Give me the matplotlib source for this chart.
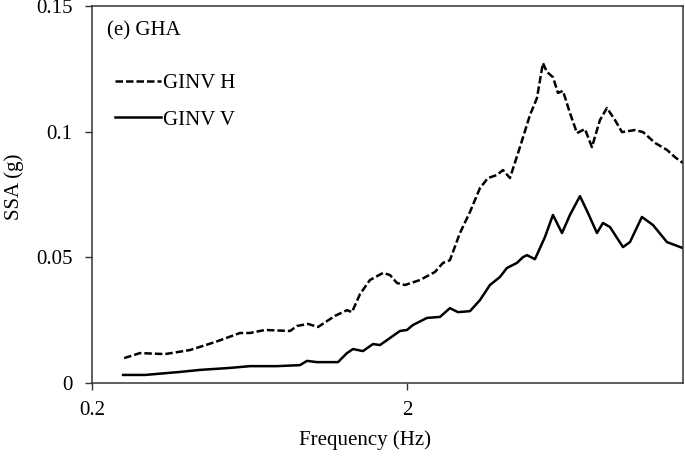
import matplotlib
matplotlib.use("Agg")
import matplotlib.pyplot as plt
from matplotlib.ticker import FixedLocator, FixedFormatter, NullLocator

plt.rcParams["font.family"] = ["Liberation Serif", "DejaVu Serif"]
plt.rcParams["font.size"] = 15

# Site-specific spectral acceleration, GINV horizontal component
freq_h = [0.253, 0.284, 0.341, 0.409, 0.492, 0.590, 0.635, 0.708, 0.851, 0.895,
          0.970, 1.044, 1.181, 1.290, 1.338, 1.419, 1.526, 1.678, 1.766, 1.859,
          1.971, 2.200, 2.454, 2.602, 2.738, 2.946, 3.170, 3.410, 3.616, 3.862,
          4.034, 4.246, 4.568, 4.916, 5.172, 5.404, 5.566, 5.814, 6.032, 6.256,
          6.584, 6.930, 7.348, 7.732, 8.200, 8.628, 9.150, 9.630, 10.59, 11.23,
          12.26, 13.38, 14.19, 15.04]
ssa_h = [0.0098, 0.0118, 0.0114, 0.0130, 0.0162, 0.0198, 0.0198, 0.0210, 0.0206, 0.0226,
         0.0234, 0.0222, 0.0266, 0.0289, 0.0281, 0.0353, 0.0409, 0.0437, 0.0429, 0.0397,
         0.0389, 0.0409, 0.0441, 0.0477, 0.0488, 0.0596, 0.0680, 0.0775, 0.0815, 0.0827,
         0.0847, 0.0815, 0.0938, 0.1066, 0.1133, 0.1273, 0.1237, 0.1217, 0.1154, 0.1162,
         0.1074, 0.0994, 0.1010, 0.0938, 0.1046, 0.1094, 0.1046, 0.0998, 0.1006, 0.0998,
         0.0955, 0.0927, 0.0898, 0.0875]

# GINV vertical component
freq_v = [0.251, 0.295, 0.381, 0.440, 0.549, 0.635, 0.773, 0.915, 0.963, 1.036,
          1.208, 1.290, 1.348, 1.450, 1.560, 1.642, 1.766, 1.900, 2.000, 2.090,
          2.315, 2.546, 2.738, 2.904, 3.170, 3.410, 3.668, 3.946, 4.154, 4.470,
          4.670, 4.808, 5.098, 5.484, 5.814, 6.212, 6.584, 7.084, 7.510, 8.022,
          8.380, 8.820, 9.702, 10.21, 11.14, 12.08, 13.38, 15.04]
ssa_v = [0.0031, 0.0031, 0.0043, 0.0051, 0.0059, 0.0066, 0.0066, 0.0070, 0.0087, 0.0082,
         0.0082, 0.0118, 0.0134, 0.0126, 0.0154, 0.0150, 0.0178, 0.0206, 0.0210, 0.0230,
         0.0258, 0.0262, 0.0297, 0.0281, 0.0285, 0.0329, 0.0389, 0.0421, 0.0457, 0.0477,
         0.0500, 0.0508, 0.0492, 0.0580, 0.0668, 0.0596, 0.0668, 0.0743, 0.0676, 0.0596,
         0.0636, 0.0620, 0.0540, 0.0560, 0.0660, 0.0628, 0.0560, 0.0536]

x_ticks = [0.2, 2, 20]
x_tick_labels = ["0.2", "2", "20"]
y_ticks = [0, 0.05, 0.1, 0.15]
y_tick_labels = ["0", "0.05", "0.1", "0.15"]

fig = plt.figure(figsize=(6.85, 4.61), dpi=100)
ax = fig.add_axes([0.1343, 0.1698, 0.8627, 0.8172])

ax.plot(freq_h, ssa_h, color="black", lw=1.8, dashes=(3, 1.2), label="GINV H")
ax.plot(freq_v, ssa_v, color="black", lw=1.8, label="GINV V")

ax.set_xscale("log")
ax.set_xlim(0.2, 15.04)
ax.set_ylim(0, 0.15)
ax.xaxis.set_major_locator(FixedLocator(x_ticks))
ax.xaxis.set_major_formatter(FixedFormatter(x_tick_labels))
ax.xaxis.set_minor_locator(NullLocator())
ax.yaxis.set_major_locator(FixedLocator(y_ticks))
ax.yaxis.set_major_formatter(FixedFormatter(y_tick_labels))

ax.tick_params(axis="both", direction="out", length=5, width=1, color="#333333")
ax.tick_params(axis="y", pad=9)
ax.tick_params(axis="x", pad=8)
for sp in ax.spines.values():
    sp.set_color("#333333")
    sp.set_linewidth(1.1)

ax.set_xlabel("Frequency (Hz)")
ax.xaxis.set_label_coords(0.462, -0.125)
ax.set_ylabel("SSA (g)")
ax.yaxis.set_label_coords(-0.115, 0.52)

ax.text(0.026, 0.935, "(e) GHA", transform=ax.transAxes, ha="left", va="center")
ax.legend(loc="upper left", bbox_to_anchor=(0.014, 0.86), frameon=False,
          handlelength=2.2, handletextpad=0.1, labelspacing=0.83, borderaxespad=0.3)

fig.savefig("out.png", dpi=100)
